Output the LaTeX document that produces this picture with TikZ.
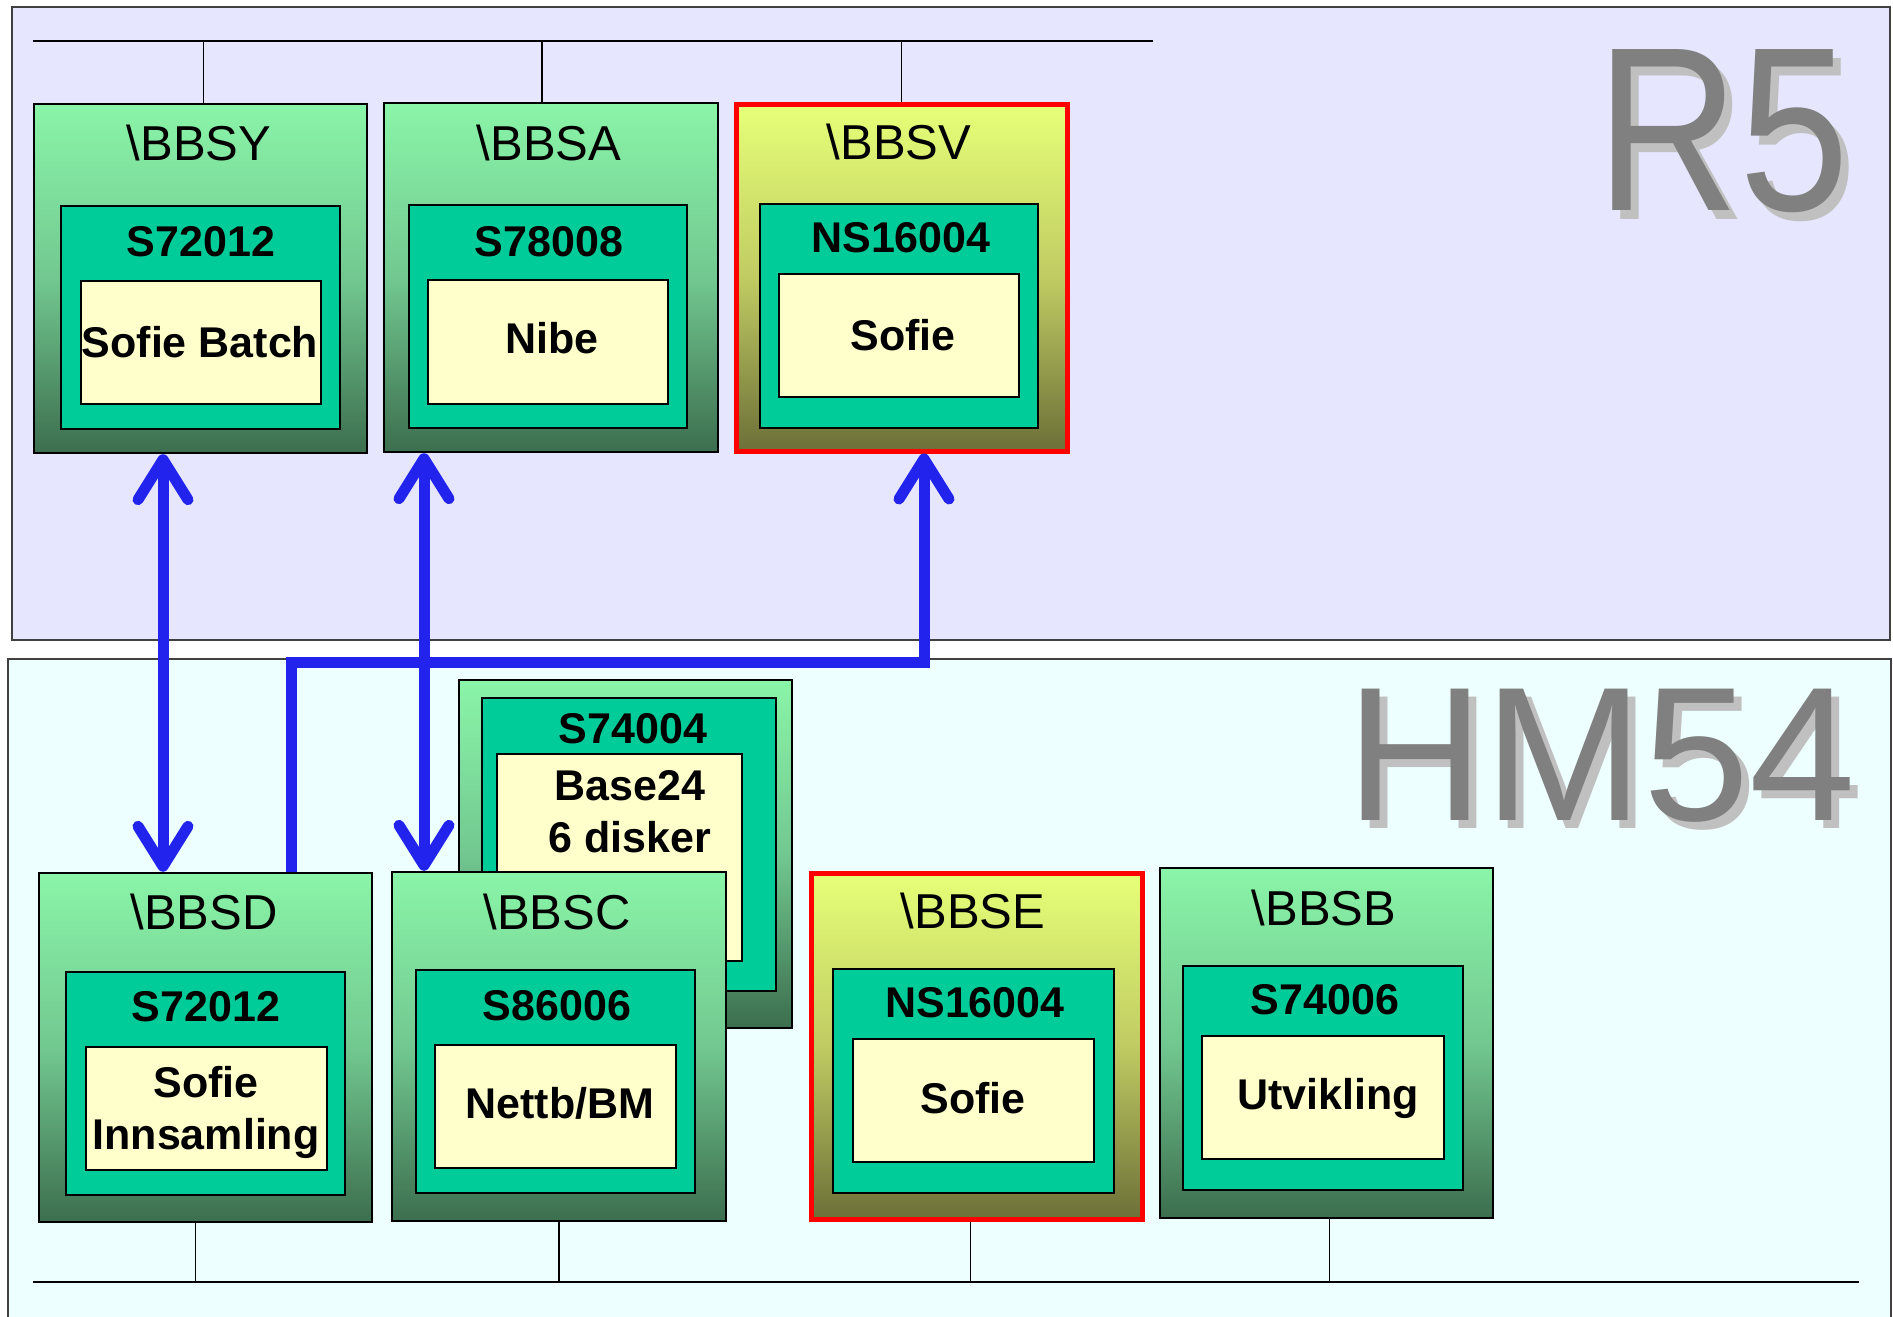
\documentclass[tikz,border=0pt]{standalone}
\usepackage{fontspec}
\setmainfont{Liberation Sans}
\usepackage{graphicx}
\usetikzlibrary{arrows.meta,fit}

\definecolor{rbg}{HTML}{E6E6FF}
\definecolor{hbg}{HTML}{EEFFFF}
\definecolor{srvtop}{HTML}{8AF5A8}
\definecolor{srvmid}{HTML}{72C890}
\definecolor{srvbot}{HTML}{3C6E4E}
\definecolor{prodtop}{HTML}{E6FF78}
\definecolor{prodmid}{HTML}{C0CB62}
\definecolor{prodbot}{HTML}{6C7038}
\definecolor{cpubg}{HTML}{00CC99}
\definecolor{appbg}{HTML}{FFFFCC}
\definecolor{linkblue}{HTML}{2323EE}
\definecolor{bigtxt}{HTML}{808080}
\definecolor{bigshd}{HTML}{C0C0C0}

\tikzset{barb/.tip={Straight Barb[length=20pt,width=25pt,round]}}

\begin{document}
\begin{tikzpicture}
	[x=0.5pt, y=-0.5pt,
	panel/.style ={draw=black!75, line width=1pt, inner sep=0pt},
	server/.style={draw=black, line width=1.2pt, inner sep=0pt, top color=srvtop, bottom color=srvbot, middle color=srvmid},
	prod/.style  ={draw=red, line width=2.5pt, inner sep=0pt, top color=prodtop, bottom color=prodbot, middle color=prodmid},
	cpu/.style   ={draw=black, line width=1.2pt, fill=cpubg, inner sep=0pt},
	appbox/.style={draw=black, line width=1pt, fill=appbg, inner sep=0pt},
	title/.style ={font=\fontsize{24.5}{28}\selectfont},
	sysname/.style={font=\bfseries\fontsize{21.5}{25}\selectfont},
	apptext/.style={font=\bfseries\fontsize{21.5}{26}\selectfont, align=center},
	big/.style={text=bigtxt, inner sep=0pt, anchor=base},
	bigshade/.style={text=bigshd, inner sep=0pt, anchor=base},
	bus/.style={line width=1pt},
	drop/.style={line width=0.7pt},
	link/.style={draw=linkblue, line width=5.5pt}]
	\useasboundingbox (0,0) rectangle (1893,1316);
	% panels
	\node[panel, fill=rbg, fit={(12,7) (1890,640)}] (r5) {};
	\node[panel, fill=hbg, fit={(8,659) (1891,1340)}] (hm54) {};
	\node[bigshade, font=\fontsize{117}{117}\selectfont] (r5s) at (1731,220) {\scalebox{0.845}[1]{R5}};
	\node[big, font=\fontsize{117}{117}\selectfont] (r5t) at (1723,211) {\scalebox{0.845}[1]{R5}};
	\node[bigshade, font=\fontsize{95.5}{96}\selectfont] (hm54s) at (1609,828) {HM54};
	\node[big, font=\fontsize{95.5}{96}\selectfont] (hm54t) at (1601,820) {HM54};
	% R5 servers
	\node[server, fit={(34,104) (367,453)}] (bbsy) {};
	\node[cpu, fit={(61,206) (340,429)}] (bbsycpu) {};
	\node[appbox, fit={(81,281) (321,404)}] (bbsyapp) {};
	\node[title] (bbsyname) at (199,143) {\textbackslash BBSY};
	\node[sysname] (bbsysys) at (201,242) {S72012};
	\node[apptext] (bbsytxt) at (200,342) {Sofie Batch};
	\node[server, fit={(384,103) (718,452)}] (bbsa) {};
	\node[cpu, fit={(409,205) (687,428)}] (bbsacpu) {};
	\node[appbox, fit={(428,280) (668,404)}] (bbsaapp) {};
	\node[title] (bbsaname) at (549,143) {\textbackslash BBSA};
	\node[sysname] (bbsasys) at (549,242) {S78008};
	\node[apptext] (bbsatxt) at (552,338) {Nibe};
	\node[prod, fit={(736,105) (1067,451)}] (bbsv) {};
	\node[cpu, fit={(760,204) (1038,428)}] (bbsvcpu) {};
	\node[appbox, fit={(779,274) (1019,397)}] (bbsvapp) {};
	\node[title] (bbsvname) at (899,142) {\textbackslash BBSV};
	\node[sysname] (bbsvsys) at (901,238) {NS16004};
	\node[apptext] (bbsvtxt) at (903,335) {Sofie};
	% HM54 servers
	\node[server, fit={(459,680) (792,1028)}] (base) {};
	\node[cpu, fit={(482,698) (776,991)}] (basecpu) {};
	\node[appbox, fit={(497,754) (742,961)}] (baseapp) {};
	\node[sysname] (basesys) at (633,729) {S74004};
	\node[apptext] (basetxt) at (630,812) {Base24\\6 disker};
	\node[server, fit={(39,873) (372,1222)}] (bbsd) {};
	\node[cpu, fit={(66,972) (345,1195)}] (bbsdcpu) {};
	\node[appbox, fit={(86,1047) (327,1170)}] (bbsdapp) {};
	\node[title] (bbsdname) at (204,912) {\textbackslash BBSD};
	\node[sysname] (bbsdsys) at (206,1007) {S72012};
	\node[apptext] (bbsdtxt) at (206,1112) {Sofie\\Innsamling};
	\node[server, fit={(392,872) (726,1221)}] (bbsc) {};
	\node[cpu, fit={(416,970) (695,1193)}] (bbsccpu) {};
	\node[appbox, fit={(435,1045) (676,1168)}] (bbscapp) {};
	\node[title] (bbscname) at (557,912) {\textbackslash BBSC};
	\node[sysname] (bbscsys) at (557,1006) {S86006};
	\node[apptext] (bbsctxt) at (560,1103) {Nettb/BM};
	\node[prod, fit={(811,873) (1142,1219)}] (bbse) {};
	\node[cpu, fit={(833,969) (1114,1193)}] (bbsecpu) {};
	\node[appbox, fit={(853,1039) (1094,1162)}] (bbseapp) {};
	\node[title] (bbsename) at (973,911) {\textbackslash BBSE};
	\node[sysname] (bbsesys) at (975,1003) {NS16004};
	\node[apptext] (bbsetxt) at (973,1098) {Sofie};
	\node[server, fit={(1160,868) (1493,1218)}] (bbsb) {};
	\node[cpu, fit={(1183,966) (1463,1190)}] (bbsbcpu) {};
	\node[appbox, fit={(1202,1036) (1444,1159)}] (bbsbapp) {};
	\node[title] (bbsbname) at (1324,908) {\textbackslash BBSB};
	\node[sysname] (bbsbsys) at (1325,1000) {S74006};
	\node[apptext] (bbsbtxt) at (1328,1098) {Utvikling};
	% networks
	\coordinate (lanR1) at (33,41);
	\coordinate (lanR2) at (1153,41);
	\coordinate (lanH1) at (33,1282);
	\coordinate (lanH2) at (1859,1282);
	\draw[bus] (lanR1) -- (lanR2);
	\draw[drop] ([xshift=1.5pt]bbsy.north) -- ([xshift=1.5pt]bbsy.north |- lanR1);
	\draw[drop] ([xshift=-4.5pt]bbsa.north) -- ([xshift=-4.5pt]bbsa.north |- lanR1);
	\draw[drop] (bbsv.north) -- (bbsv.north |- lanR1);
	\draw[bus] (lanH1) -- (lanH2);
	\draw[drop] ([xshift=-5pt]bbsd.south) -- ([xshift=-5pt]bbsd.south |- lanH1);
	\draw[drop] (bbsc.south) -- (bbsc.south |- lanH1);
	\draw[drop] ([xshift=-3pt]bbse.south) -- ([xshift=-3pt]bbse.south |- lanH1);
	\draw[drop] ([xshift=1.5pt]bbsb.south) -- ([xshift=1.5pt]bbsb.south |- lanH1);
	% links
	\coordinate (linkA) at (163,0);
	\coordinate (linkB) at (424,0);
	\coordinate (jogL) at (291,662);
	\coordinate (jogR) at (924,662);
	\draw[link, {barb}-{barb}] (bbsy.south -| linkA) -- (bbsd.north -| linkA);
	\draw[link, {barb}-{barb}] (bbsa.south -| linkB) -- (bbsc.north -| linkB);
	\draw[link, -{barb}] (bbsd.north -| jogL) -- (jogL) -- (jogR) -- (bbsv.south -| jogR);
\end{tikzpicture}
\end{document}
